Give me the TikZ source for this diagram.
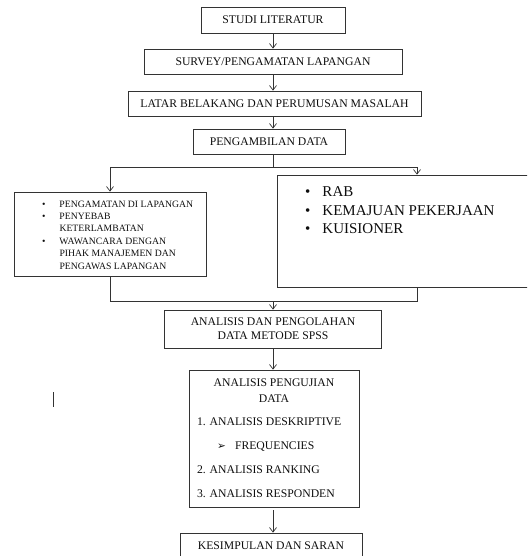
\documentclass[tikz,border=0pt]{standalone}
\usepackage{fontspec}
\usetikzlibrary{arrows.meta}
\setmainfont{Liberation Serif}
\newfontfamily\dingfont{DejaVu Sans}
\newcommand\litem{\hangindent=17.5pt\hangafter=1\makebox[17.5pt][l]{\textbullet}}
\begin{document}
\begin{tikzpicture}[x=1pt, y=-1pt,
	box/.style={draw=black!80, line width=0.8pt, inner sep=0pt, text=black!95, font=\fontsize{11.7}{14}\selectfont},
	link/.style={-{Straight Barb[length=4.5pt, width=7pt]}, draw=black!80, line width=0.7pt}]
	\useasboundingbox (0,0) rectangle (527,556);
	\clip (0,0) rectangle (527,556);
	\path(273,20)      node[box, minimum width=144, minimum height=26](SL) {STUDI LITERATUR};
	\path(273,61.5)    node[box, minimum width=258, minimum height=25](SP) {SURVEY/PENGAMATAN LAPANGAN};
	\path(274.5,103.5) node[box, minimum width=293, minimum height=25](LB) {LATAR BELAKANG DAN PERUMUSAN MASALAH};
	\path(269,141.5)   node[box, minimum width=152, minimum height=25](PD) {PENGAMBILAN DATA};
	\path(110,234)     node[box, minimum width=192, minimum height=84](PL) {\parbox[c][84pt][t]{192pt}{\fontsize{9.7}{12.4}\selectfont\raggedright\leftskip=28pt
		\vspace*{8.6pt}
		\litem PENGAMATAN DI LAPANGAN\par
		\litem PENYEBAB\newline KETERLAMBATAN\par
		\litem WAWANCARA DENGAN\newline PIHAK MANAJEMEN DAN\newline PENGAWAS LAPANGAN\par}};
	\path(417,231)     node[box, minimum width=280, minimum height=112](PR) {\parbox[c][112pt][t]{280pt}{\fontsize{15}{18.5}\selectfont\raggedright\leftskip=28pt
		\vspace*{11.6pt}
		\litem RAB\par
		\litem KEMAJUAN PEKERJAAN\par
		\litem KUISIONER\par}};
	\path(273,329)     node[box, minimum width=217, minimum height=38, align=center](AP) {ANALISIS DAN PENGOLAHAN\\DATA METODE SPSS};
	\path(274,438.5)   node[box, minimum width=170, minimum height=137](AU) {\parbox[c][137pt][t]{170pt}{\fontsize{11.7}{16}\selectfont
		\vspace*{8.5pt}
		{\centering ANALISIS PENGUJIAN\\DATA\par}
		\fontsize{11.7}{23.7}\selectfont\raggedright\leftskip=8pt
		1. ANALISIS DESKRIPTIVE\par
		\hspace*{20pt}\makebox[18pt][l]{\dingfont\fontsize{10.5}{10}\selectfont ➢}FREQUENCIES\par
		2. ANALISIS RANKING\par
		3. ANALISIS RESPONDEN\par}};
	\path(271,546)     node[box, minimum width=182, minimum height=26](KS) {KESIMPULAN DAN SARAN};
	\coordinate (J1) at (273,167);
	\coordinate (J2) at (273,301);
	% alur utama
	\draw[link] (SL) -- (SP);
	\draw[link] (SP) -- (SP |- LB.north);
	\draw[link] (LB.south -| SP) -- (PD.north -| SP);
	\draw[black!80, line width=0.7pt] (PD.south -| SP) -- (J1);
	\draw[link] (J1) -| (PL);
	\draw[link] (J1) -| (PR);
	\draw[black!80, line width=0.7pt] (PL) |- (J2);
	\draw[black!80, line width=0.7pt] (PR) |- (J2);
	\draw[link] (J2) -- (AP);
	\draw[link] (AP) -- (AP |- AU.north);
	\draw[link, shorten <=3pt] (AU.south -| AP) -- (KS.north -| AP);
	\draw[black!80, line width=0.8pt] (53,392) -- (53,407);
\end{tikzpicture}
\end{document}
